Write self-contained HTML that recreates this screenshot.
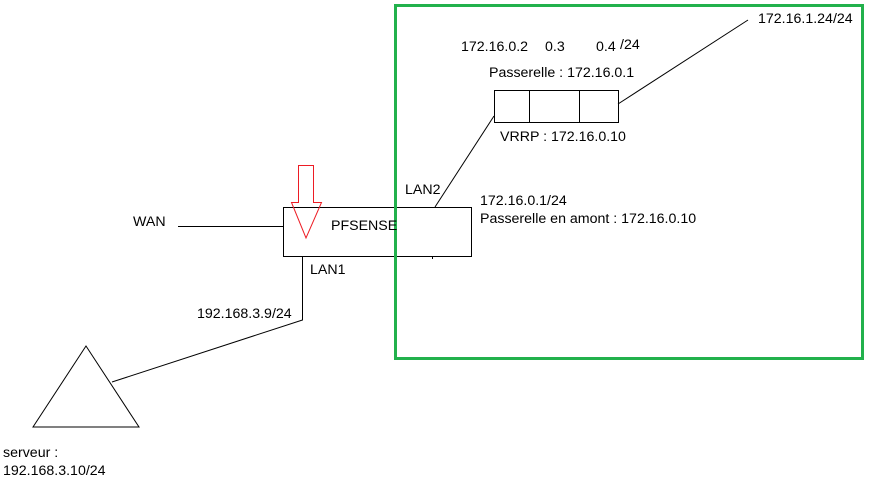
<!DOCTYPE html>
<html><head><style>
body{margin:0;background:#fff;}
svg text{font-family:"Liberation Sans",sans-serif;font-size:14.2px;fill:#000;}
</style></head><body>
<svg width="883" height="489" xmlns="http://www.w3.org/2000/svg">
<rect x="0" y="0" width="883" height="489" fill="#fff"/>
<rect x="283.5" y="207.5" width="188" height="49" fill="none" stroke="#000" stroke-width="1"/>
<rect x="395.5" y="5.5" width="467" height="353" fill="none" stroke="#22b14c" stroke-width="3"/>
<polygon points="298.5,165.5 313.5,165.5 313.5,202.5 321.5,202.5 306,238 291.5,202.5 298.5,202.5" fill="none" stroke="#ed1c24" stroke-width="1"/>
<rect x="494.5" y="90.5" width="124" height="32" fill="none" stroke="#000"/>
<line x1="529.5" y1="90" x2="529.5" y2="122" stroke="#000"/>
<line x1="579.5" y1="90" x2="579.5" y2="122" stroke="#000"/>
<line x1="618" y1="104" x2="748" y2="20" stroke="#000"/>
<line x1="435" y1="207" x2="494" y2="116" stroke="#000"/>
<line x1="432.5" y1="256" x2="432.5" y2="259" stroke="#000"/>
<line x1="178" y1="226.5" x2="283" y2="226.5" stroke="#000"/>
<polyline points="302.5,257 302.5,320 112,382" fill="none" stroke="#000"/>
<polygon points="86,346 33,427 139,427" fill="none" stroke="#000"/>
<text x="133" y="226">WAN</text>
<text x="331" y="230">PFSENSE</text>
<text x="310" y="274">LAN1</text>
<text x="405" y="194">LAN2</text>
<text x="480" y="205">172.16.0.1/24</text>
<text x="480" y="223">Passerelle en amont : 172.16.0.10</text>
<text x="197" y="318">192.168.3.9/24</text>
<text x="3" y="457">serveur :</text>
<text x="3" y="475">192.168.3.10/24</text>
<text x="461" y="51">172.16.0.2</text>
<text x="545" y="51">0.3</text>
<text x="596" y="51">0.4</text>
<text x="620" y="49">/24</text>
<text x="489" y="77">Passerelle : 172.16.0.1</text>
<text x="500" y="141">VRRP : 172.16.0.10</text>
<text x="758" y="23">172.16.1.24/24</text>
</svg>
</body></html>
